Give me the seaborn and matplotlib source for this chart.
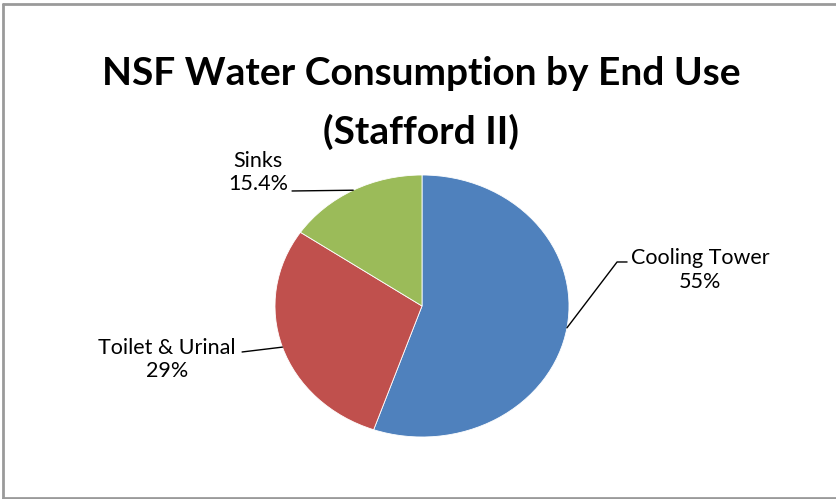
import numpy as np
import matplotlib
matplotlib.use("Agg")
import matplotlib.pyplot as plt
import seaborn as sns

# ---- data ----
categories = ["Cooling Tower", "Toilet & Urinal", "Sinks"]
values = [55, 29, 15.4]
title_lines = ["NSF Water Consumption by End Use", "(Stafford II)"]

sns.set_theme(style="white")
plt.rcParams["font.family"] = ["Lato", "DejaVu Sans"]

colors = ["#4F81BD", "#C0504D", "#9BBB59"]

fig = plt.figure(figsize=(8.37, 4.99), dpi=100)
fig.patch.set_facecolor("white")

# frame border (top, left, bottom)
W, H = 837, 499
border = dict(color="#9a9a9a", lw=2.0, transform=fig.transFigure)
fig.add_artist(plt.Line2D([3.5 / W, 1.0], [1 - 3.5 / H, 1 - 3.5 / H], **border))
fig.add_artist(plt.Line2D([3.5 / W, 3.5 / W], [1 - 3.5 / H, 0.5 / H], **border))
fig.add_artist(plt.Line2D([3.5 / W, 1.0], [1.0 / H, 1.0 / H], **border))

# pie axes (elliptical pie like Excel)
ax = fig.add_axes([275 / W, 1 - 437 / H, 294 / W, 262 / H])
wedges, _ = ax.pie(values, colors=colors, startangle=90, counterclock=False,
                   radius=1.0, wedgeprops=dict(edgecolor="white", linewidth=0.6))
ax.set_aspect("auto")
ax.set_xlim(-1, 1)
ax.set_ylim(-1, 1)
ax.axis("off")

# label layout (axes data coordinates)
label_pos = [(1.89, 0.275), (-1.735, -0.41), (-1.115, 1.02)]
leader_end = [[(1.327, 0.336), (1.395, 0.336)],
              [(-1.224, -0.351)],
              [(-0.884, 0.878)]]

for w, cat, val, pos, ends in zip(wedges, categories, values, label_pos, leader_end):
    mid = np.deg2rad((w.theta1 + w.theta2) / 2)
    x0, y0 = np.cos(mid), np.sin(mid)
    xs = [x0] + [p[0] for p in ends]
    ys = [y0] + [p[1] for p in ends]
    ax.plot(xs, ys, color="black", lw=1.0, clip_on=False)
    ax.text(pos[0], pos[1], f"{cat}\n{val:g}%", ha="center", va="center",
            fontsize=15.5, color="black", linespacing=1.22, clip_on=False)

fig.text(421 / W, 1 - 85 / H, title_lines[0], ha="center", va="baseline",
         fontsize=28, fontweight="bold", color="black")
fig.text(421 / W, 1 - 144 / H, title_lines[1], ha="center", va="baseline",
         fontsize=28, fontweight="bold", color="black")

fig.savefig("out.png", dpi=100, facecolor="white")
